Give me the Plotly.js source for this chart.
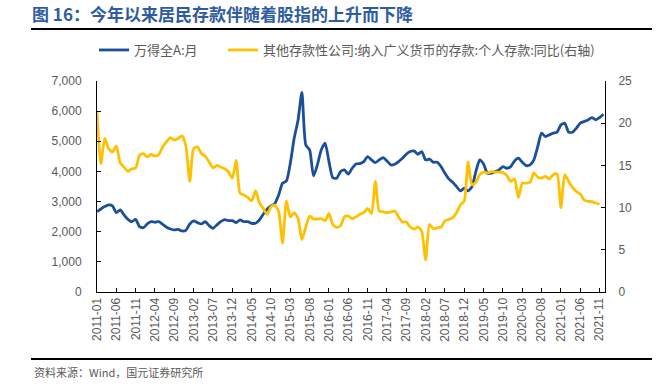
<!DOCTYPE html>
<html>
<head>
<meta charset="utf-8">
<script src="https://cdn.plot.ly/plotly-3.0.1.min.js"></script>
<style>
html,body{margin:0;padding:0;background:#fff;}
#chart{width:666px;height:392px;}
</style>
</head>
<body>
<div id="chart"></div>
<script>
// Month categories 2011-01 .. 2021-12
var months = [];
for (var yr = 2011; yr <= 2021; yr++) {
  for (var mo = 1; mo <= 12; mo++) {
    months.push(yr + '-' + (mo < 10 ? '0' + mo : '' + mo));
  }
}

// 万得全A:月 (left axis)
var windA = [
  2667, 2755, 2833, 2888, 2855, 2633, 2722, 2556, 2412, 2334, 2412, 2168,
  2135, 2257, 2334, 2313, 2334, 2247, 2147, 2091, 2058, 2080, 2025, 2047,
  2257, 2357, 2300, 2257, 2334, 2201, 2114, 2224, 2334, 2400, 2368, 2368,
  2301, 2390, 2334, 2334, 2280, 2280, 2390, 2578, 2744, 2855, 2933, 3220,
  3608, 3685, 4272, 5100, 5700, 6620, 4880, 4714, 3850, 4216, 4714, 4937,
  4327, 3790, 3773, 3994, 4050, 3908, 4106, 4250, 4260, 4327, 4493, 4383,
  4294, 4383, 4460, 4349, 4216, 4240, 4327, 4438, 4570, 4659, 4681, 4570,
  4659, 4383, 4405, 4305, 4305, 4160, 3940, 3752, 3641, 3497, 3353, 3442,
  3353, 3497, 3994, 4380, 4240, 3940, 3940, 3994, 4050, 4160, 4106, 4160,
  4349, 4438, 4305, 4194, 4216, 4383, 4825, 5269, 5158, 5213, 5269, 5302,
  5545, 5600, 5302, 5302, 5435, 5600, 5655, 5710, 5788, 5710, 5788, 5899
];

// 其他存款性公司:纳入广义货币的存款:个人存款:同比 (right axis, %)
var depositYoY = [
  21.3, 15.2, 18.2, 17.0, 16.6, 17.3, 15.3, 14.8, 14.3, 14.6, 14.7, 16.2,
  16.4, 16.0, 16.3, 16.1, 16.3, 17.2, 17.8, 18.3, 18.0, 18.2, 18.5, 17.3,
  13.1, 17.0, 17.2, 16.4, 16.1, 15.4, 14.7, 15.0, 14.8, 14.6, 14.25, 13.5,
  15.6, 11.7, 11.5, 11.2, 10.8, 12.0, 10.6, 9.9, 9.2, 10.1, 10.3, 9.5,
  5.8, 10.8, 8.9, 9.4, 8.7, 6.2, 7.7, 9.0, 8.65, 8.65, 8.7, 8.45,
  9.3, 8.0, 7.65, 7.85, 8.9, 9.0, 8.7, 8.9, 9.2, 9.4, 9.9, 9.3,
  13.1, 9.6, 9.5, 9.4, 9.5, 9.6, 8.9, 8.3, 8.3, 7.7, 7.45, 7.7,
  7.2, 3.8, 8.0, 7.5, 7.6, 7.7, 8.45, 8.6, 8.8, 9.4, 10.3, 10.8,
  15.4, 12.7, 13.0, 13.9, 14.2, 14.1, 14.25, 14.2, 14.2, 14.15, 13.8, 13.1,
  13.4, 11.2, 12.9, 12.9, 13.0, 14.1, 13.6, 13.5, 13.7, 13.4, 13.9, 14.0,
  10.0, 13.9, 13.1, 12.4, 11.9, 11.6, 10.9, 10.75, 10.7, 10.55, 10.4
];

var tickMonths = [];
for (var i = 0; i < months.length; i += 5) tickMonths.push(months[i]);

var seriesNames = ['万得全A:月', '其他存款性公司:纳入广义货币的存款:个人存款:同比(右轴)'];
var blue = '#1B4F9B', gold = '#FFC000';

var traces = [
  {x: months.slice(0, windA.length), y: windA, name: seriesNames[0], type: 'scatter', mode: 'lines',
   line: {color: blue, width: 2.8, shape: 'spline', smoothing: 0.6}, yaxis: 'y', legend: 'legend'},
  {x: months.slice(0, depositYoY.length), y: depositYoY, name: seriesNames[1], type: 'scatter', mode: 'lines',
   line: {color: gold, width: 2.8, shape: 'spline', smoothing: 0.6}, yaxis: 'y2', legend: 'legend2'}
];

var L = 97, R = 605, T = 81, B = 292, W = 666, H = 392;
function px(x){ return (x - L) / (R - L); }
function py(y){ return (B - y) / (B - T); }

var tickFont = {family: 'Liberation Sans, Arial, sans-serif', size: 12, color: '#595959'};
var legendFont = {family: 'Noto Sans CJK SC, sans-serif', size: 13, color: '#595959'};

var layout = {
  width: W, height: H,
  margin: {l: L, r: W - R, t: T, b: H - B, pad: 0},
  paper_bgcolor: '#ffffff', plot_bgcolor: '#ffffff',
  showlegend: true,
  title: {
    text: '图 16：今年以来居民存款伴随着股指的上升而下降',
    font: {family: 'Noto Sans CJK SC, sans-serif', size: 17, color: '#2E5C9E', weight: 'bold'},
    xref: 'container', yref: 'container', x: 32 / W, xanchor: 'left', y: 1 - 15 / H, yanchor: 'middle'
  },
  legend: {
    orientation: 'h', xref: 'container', yref: 'container',
    x: 94 / W, xanchor: 'left', y: 1 - 50 / H, yanchor: 'middle',
    font: legendFont, bgcolor: 'rgba(0,0,0,0)', borderwidth: 0
  },
  legend2: {
    orientation: 'h', xref: 'container', yref: 'container',
    x: 223 / W, xanchor: 'left', y: 1 - 50 / H, yanchor: 'middle',
    font: legendFont, bgcolor: 'rgba(0,0,0,0)', borderwidth: 0
  },
  xaxis: {
    type: 'category', range: [0, 131.4], showgrid: false, zeroline: false,
    showline: true, linecolor: '#000000', linewidth: 1,
    ticks: 'inside', ticklen: 4, tickcolor: '#000000', tickwidth: 1,
    tickmode: 'array', tickvals: tickMonths, ticktext: tickMonths, tickangle: -90,
    tickfont: tickFont, fixedrange: true
  },
  yaxis: {
    range: [0, 7000], dtick: 1000, tickformat: ',d', showgrid: false, zeroline: false,
    showline: true, linecolor: '#000000', linewidth: 1,
    ticks: 'inside', ticklen: 4, tickcolor: '#000000',
    tickfont: tickFont, ticklabelstandoff: 12
  },
  yaxis2: {
    overlaying: 'y', side: 'right', range: [0, 25], dtick: 5, showgrid: false, zeroline: false,
    showline: true, linecolor: '#000000', linewidth: 1,
    ticks: 'inside', ticklen: 4, tickcolor: '#000000',
    tickfont: tickFont, ticklabelstandoff: 10
  },
  shapes: [
    {type: 'line', xref: 'paper', yref: 'paper', x0: px(31), x1: px(652), y0: py(29), y1: py(29),
     line: {color: '#000000', width: 2}},
    {type: 'line', xref: 'paper', yref: 'paper', x0: px(31), x1: px(652), y0: py(359), y1: py(359),
     line: {color: '#000000', width: 2}}
  ],
  annotations: [
    {text: '资料来源：Wind，国元证券研究所', xref: 'paper', yref: 'paper', x: px(32), y: py(372),
     xanchor: 'left', yanchor: 'middle', showarrow: false,
     font: {family: 'Noto Sans CJK SC, sans-serif', size: 11, color: '#595959'}}
  ]
};

Plotly.newPlot('chart', traces, layout, {staticPlot: true, displayModeBar: false});
</script>
</body>
</html>
